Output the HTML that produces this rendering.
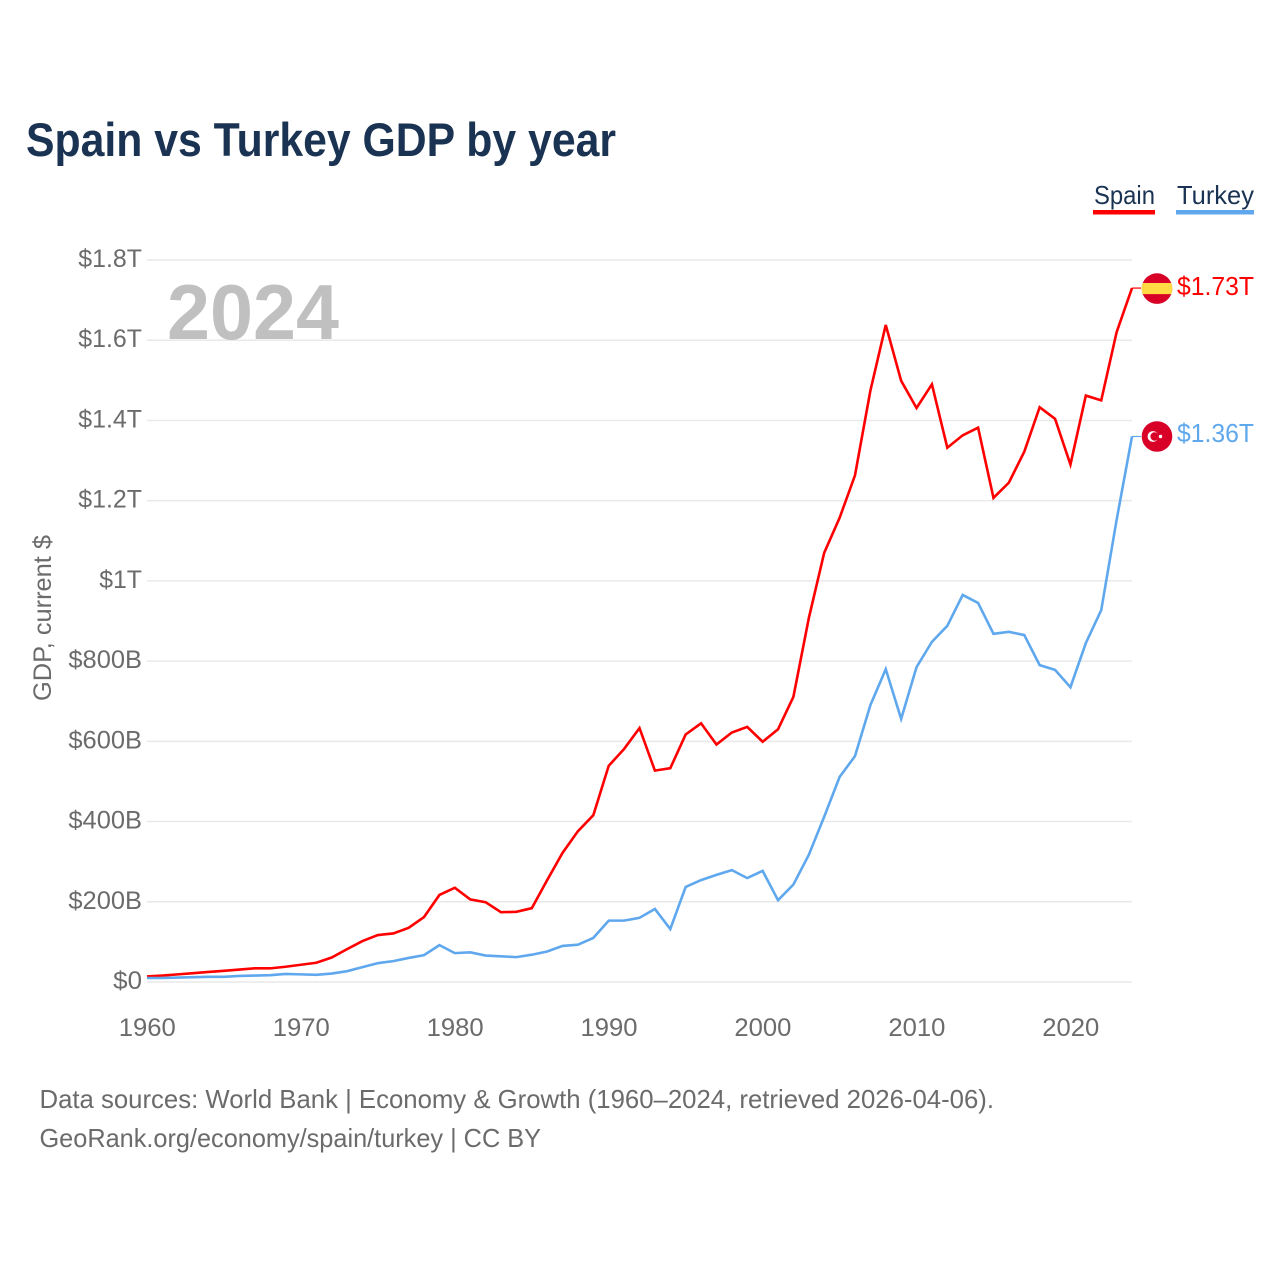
<!DOCTYPE html>
<html lang="en">
<head>
<meta charset="utf-8">
<title>Spain vs Turkey GDP by year</title>
<style>
  html, body { margin: 0; padding: 0; background: #ffffff; }
  svg { display: block; font-family: "Liberation Sans", "DejaVu Sans", sans-serif; }
</style>
</head>
<body>
<svg id="chart" xmlns="http://www.w3.org/2000/svg" width="1280" height="1280" viewBox="0 0 1280 1280">
  <rect x="0" y="0" width="1280" height="1280" fill="#ffffff"/>
  <text x="26" y="156" font-size="47" font-weight="700" fill="#1a3353" textLength="590" lengthAdjust="spacingAndGlyphs">Spain vs Turkey GDP by year</text>

  <g id="grid"></g>
  <g id="yticks"></g>
  <g id="xticks"></g>

  <text x="167" y="339" font-size="78" font-weight="700" fill="#c0c0c0" textLength="172" lengthAdjust="spacingAndGlyphs">2024</text>
  <text transform="translate(51 618) rotate(-90)" text-anchor="middle" font-size="25" fill="#6b6b6b" textLength="166" lengthAdjust="spacingAndGlyphs">GDP, current $</text>

  <g id="series"></g>

  <g>
    <text x="1094" y="204" font-size="26" fill="#1a3353" textLength="61" lengthAdjust="spacingAndGlyphs">Spain</text>
    <rect x="1093" y="210" width="62" height="4.5" fill="#ff0000"/>
  </g>
  <g>
    <text x="1177" y="204" font-size="26" fill="#1a3353" textLength="77" lengthAdjust="spacingAndGlyphs">Turkey</text>
    <rect x="1176" y="210" width="78" height="4.5" fill="#5fa8ee"/>
  </g>

  <g id="flag-spain"></g>
  <g id="flag-turkey"></g>

  <text x="39.5" y="1108" font-size="26" fill="#6b6b6b" textLength="954.5" lengthAdjust="spacingAndGlyphs">Data sources: World Bank | Economy &amp; Growth (1960–2024, retrieved 2026-04-06).</text>
  <text x="39.5" y="1147" font-size="26" fill="#6b6b6b" textLength="501.5" lengthAdjust="spacingAndGlyphs">GeoRank.org/economy/spain/turkey | CC BY</text>
</svg>

<script>
const years = [1960,1961,1962,1963,1964,1965,1966,1967,1968,1969,1970,1971,1972,1973,1974,1975,1976,1977,1978,1979,1980,1981,1982,1983,1984,1985,1986,1987,1988,1989,1990,1991,1992,1993,1994,1995,1996,1997,1998,1999,2000,2001,2002,2003,2004,2005,2006,2007,2008,2009,2010,2011,2012,2013,2014,2015,2016,2017,2018,2019,2020,2021,2022,2023,2024];
const spainValues = [14,16,19,22,25,28,31,34,34,38,43,48,61,82,102,117,121,135,162,217,235,206,199,174,175,184,254,322,376,416,539,581,633,527,533,617,645,592,622,636,599,630,711,907,1070,1157,1263,1474,1638,1499,1431,1490,1332,1363,1382,1207,1245,1322,1433,1404,1290,1462,1450,1620,1730];
const turkeyValues = [10,10,11,12,13,13,15,16,17,20,19,18,21,27,37,47,52,60,67,92,72,74,66,64,62,68,76,90,93,110,153,153,160,182,132,237,254,267,279,259,277,204,243,317,412,511,563,690,780,656,785,848,888,965,945,868,873,865,790,778,735,845,927,1152,1360];
const yTickValues = [0,200,400,600,800,1000,1200,1400,1600,1800];
const yTickLabels = ["$0","$200B","$400B","$600B","$800B","$1T","$1.2T","$1.4T","$1.6T","$1.8T"];
const xTickYears = [1960,1970,1980,1990,2000,2010,2020];
const xTickLabels = ["1960","1970","1980","1990","2000","2010","2020"];
const spainEndLabel = "$1.73T";
const turkeyEndLabel = "$1.36T";

const NS = "http://www.w3.org/2000/svg";
const xScale = function (year) { return 147 + (year - 1960) * (1132 - 147) / (2024 - 1960); };
const yScale = function (value) { return 982 - value * (982 - 260) / 1800; };

function create(tag, parent, props) {
  const el = document.createElementNS(NS, tag);
  for (const k in props) { el.setAttribute(k, props[k]); }
  parent.appendChild(el);
  return el;
}
function labelWidth(str) {
  let w = 0;
  for (const ch of str) {
    if (ch === "T") { w += 14; }
    else if (ch === "B") { w += 16; }
    else if (ch === ".") { w += 6.5; }
    else { w += 14.4; }
  }
  return w;
}

const gridG = document.getElementById("grid");
const yG = document.getElementById("yticks");
const xG = document.getElementById("xticks");
const seriesG = document.getElementById("series");

yTickValues.forEach(function (v, i) {
  const y = yScale(v);
  const line = create("line", gridG, { x1: 147, x2: 1132, y1: y, y2: y, stroke: "#e9e9e9", "stroke-width": 1.5 });
  
  
  const t = create("text", yG, { x: 142, y: y + 7, "text-anchor": "end", "font-size": 25, fill: "#6b6b6b", textLength: labelWidth(yTickLabels[i]), lengthAdjust: "spacingAndGlyphs" });
  t.textContent = yTickLabels[i];
  
  
});

xTickYears.forEach(function (yr, i) {
  const t = create("text", xG, { x: xScale(yr) + 0.3, y: 1036, "text-anchor": "middle", "font-size": 25, fill: "#6b6b6b", textLength: 57, lengthAdjust: "spacingAndGlyphs" });
  t.textContent = xTickLabels[i];
  
  
});

function pathFor(values) {
  return values.map(function (v, i) {
    return (i ? "L" : "M") + xScale(years[i]).toFixed(2) + " " + yScale(v).toFixed(2);
  }).join(" ");
}

const spainLine = create("path", seriesG, { d: pathFor(spainValues), fill: "none", stroke: "#ff0000", "stroke-width": 2.6, "stroke-linejoin": "miter" });



const turkeyLine = create("path", seriesG, { d: pathFor(turkeyValues), fill: "none", stroke: "#5fa8ee", "stroke-width": 2.6, "stroke-linejoin": "miter" });



const spainEndY = yScale(spainValues[spainValues.length - 1]);
const turkeyEndY = yScale(turkeyValues[turkeyValues.length - 1]);
const endX = xScale(years[years.length - 1]);

const spainConn = create("line", seriesG, { x1: endX, x2: endX + 9, y1: spainEndY, y2: spainEndY, stroke: "#ff0000", "stroke-width": 1.2 });



const turkeyConn = create("line", seriesG, { x1: endX, x2: endX + 9, y1: turkeyEndY, y2: turkeyEndY, stroke: "#5fa8ee", "stroke-width": 1.2 });



/* Spain flag */
const fs = document.getElementById("flag-spain");
const fsY = spainEndY + 0.5;
create("circle", fs, { cx: 1157, cy: fsY, r: 15.3, fill: "#d80027" });
create("path", fs, { d: "M1142.7 " + (fsY - 5.6) + " H1171.3 A15.3 15.3 0 0 1 1171.3 " + (fsY + 5.6) + " H1142.7 A15.3 15.3 0 0 1 1142.7 " + (fsY - 5.6) + " Z", fill: "#ffda44" });

/* Turkey flag */
const ft = document.getElementById("flag-turkey");
const ftY = turkeyEndY;
create("circle", ft, { cx: 1157, cy: ftY, r: 15.3, fill: "#d80027" });
create("circle", ft, { cx: 1153, cy: ftY, r: 5.4, fill: "#ffffff" });
create("circle", ft, { cx: 1154.6, cy: ftY, r: 4.2, fill: "#d80027" });
create("circle", ft, { cx: 1160.5, cy: ftY, r: 1.7, fill: "#ffffff" });

const spainText = create("text", seriesG, { x: 1177, y: 295, "font-size": 26, fill: "#ff0000", textLength: 77, lengthAdjust: "spacingAndGlyphs" });
spainText.textContent = spainEndLabel;



const turkeyText = create("text", seriesG, { x: 1177, y: 442, "font-size": 26, fill: "#5fa8ee", textLength: 77, lengthAdjust: "spacingAndGlyphs" });
turkeyText.textContent = turkeyEndLabel;


</script>
</body>
</html>
